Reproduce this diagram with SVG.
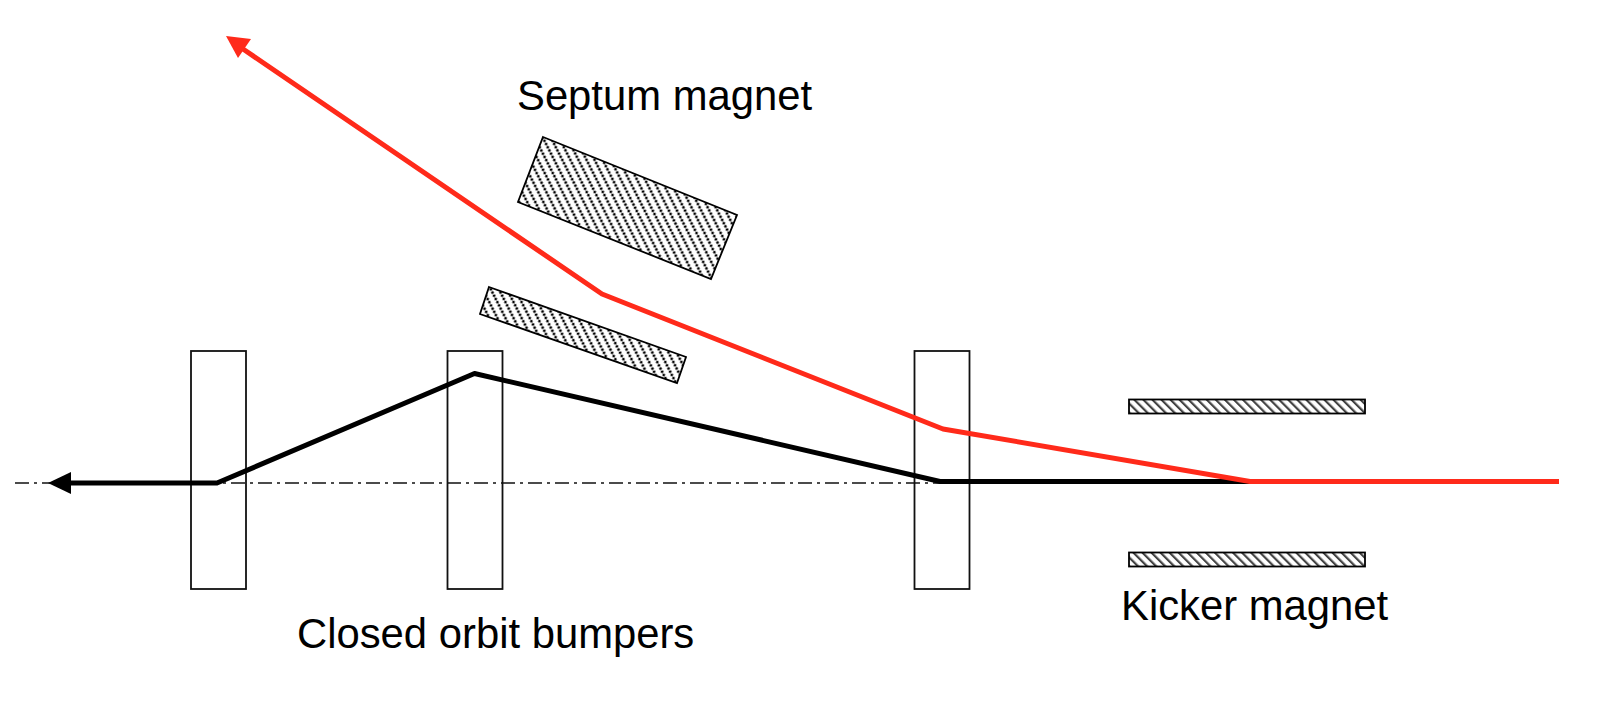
<svg xmlns="http://www.w3.org/2000/svg" width="1600" height="707" viewBox="0 0 1600 707">
<style>
text{font-family:"Liberation Sans",Arial,sans-serif;font-size:41.8px;fill:#000}
.bump{fill:none;stroke:#111;stroke-width:1.8}
.hatch{stroke:#000;stroke-width:1.8}
.beam{fill:none;stroke-width:5;stroke-linejoin:round}
</style>
<defs>
<pattern id="hs" width="7.2" height="3.6" patternUnits="userSpaceOnUse" patternTransform="rotate(-27)">
<rect width="7.2" height="3.6" fill="#fff"/>
<ellipse cx="3.6" cy="1.8" rx="1.45" ry="1.4" fill="#000"/>
</pattern>
<pattern id="hk" width="6.400" height="6.400" patternUnits="userSpaceOnUse" patternTransform="rotate(-45)">
<rect width="6.400" height="6.400" fill="#fff"/>
<rect x="0" y="0" width="2.200" height="6.400" fill="#444"/>
</pattern>
</defs>
<g id="bumper-1"><rect class="bump" x="191" y="351" width="55" height="238"/></g>
<g id="bumper-2"><rect class="bump" x="447.500" y="351" width="55" height="238"/></g>
<g id="bumper-3"><rect class="bump" x="914.500" y="351" width="55" height="238"/></g>
<g id="septum-upper"><polygon class="hatch" fill="url(#hs)" points="543,137 737,215 711,279 518,202"/></g>
<g id="septum-lower"><polygon class="hatch" fill="url(#hs)" points="489,287 686,357 677,383 480,314"/></g>
<g id="kicker-upper"><rect class="hatch" fill="url(#hk)" x="1129" y="399.500" width="236" height="14"/></g>
<g id="kicker-lower"><rect class="hatch" fill="url(#hk)" x="1129" y="552.500" width="236" height="14"/></g>
<g id="connectors">
<line x1="15" y1="483" x2="940" y2="483" stroke="#111" stroke-width="1.500" stroke-dasharray="14 5 3 5"/>
<polyline class="beam" stroke="#000" points="66,483 217,483 474.500,373.500 940,481.500 1250,481.500"/>
<polygon fill="#000" points="48,483 71,472 71,494"/>
<polyline class="beam" stroke="#ff2a1a" points="243,49 602,294 943,429 1250,481.500 1559,481.500"/>
<polygon fill="#ff2a1a" points="226,36 251,39 238,58"/>
</g>
<g id="labels">
<text id="label-septum" x="517" y="110">Septum magnet</text>
<text id="label-kicker" x="1121" y="620">Kicker magnet</text>
<text id="label-bumpers" x="297" y="648">Closed orbit bumpers</text>
</g>
</svg>
